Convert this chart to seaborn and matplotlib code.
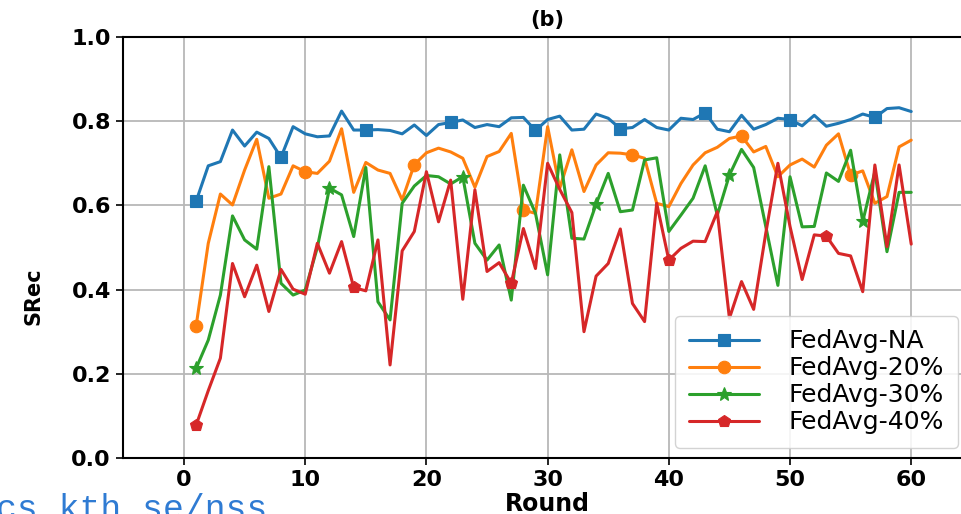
import numpy as np
import pandas as pd
import matplotlib
matplotlib.use("Agg")
import matplotlib.pyplot as plt
import seaborn as sns

rounds = list(range(1, 61))

fedavg_na = [0.610, 0.694, 0.704, 0.779, 0.741, 0.774, 0.759, 0.714, 0.787, 0.770,
             0.763, 0.765, 0.824, 0.779, 0.779, 0.780, 0.778, 0.770, 0.791, 0.766,
             0.792, 0.797, 0.803, 0.785, 0.792, 0.787, 0.808, 0.809, 0.778, 0.804,
             0.812, 0.779, 0.781, 0.817, 0.807, 0.782, 0.785, 0.804, 0.785, 0.779,
             0.807, 0.804, 0.820, 0.781, 0.775, 0.814, 0.781, 0.792, 0.807, 0.804,
             0.789, 0.814, 0.788, 0.795, 0.804, 0.817, 0.809, 0.830, 0.832, 0.823]

fedavg_20 = [0.314, 0.510, 0.627, 0.601, 0.684, 0.757, 0.617, 0.627, 0.694, 0.680,
             0.676, 0.705, 0.782, 0.631, 0.702, 0.684, 0.676, 0.613, 0.697, 0.725,
             0.736, 0.727, 0.712, 0.643, 0.716, 0.728, 0.771, 0.589, 0.581, 0.787,
             0.641, 0.732, 0.633, 0.696, 0.725, 0.724, 0.720, 0.712, 0.605, 0.597,
             0.652, 0.696, 0.725, 0.738, 0.759, 0.765, 0.727, 0.740, 0.668, 0.696,
             0.710, 0.691, 0.743, 0.770, 0.672, 0.682, 0.605, 0.621, 0.739, 0.755]

fedavg_30 = [0.213, 0.280, 0.387, 0.575, 0.518, 0.496, 0.692, 0.415, 0.387, 0.399,
             0.500, 0.641, 0.625, 0.526, 0.690, 0.371, 0.328, 0.605, 0.646, 0.671,
             0.668, 0.651, 0.668, 0.510, 0.470, 0.506, 0.375, 0.648, 0.581, 0.435,
             0.720, 0.522, 0.520, 0.603, 0.676, 0.585, 0.589, 0.708, 0.713, 0.538,
             0.577, 0.617, 0.694, 0.577, 0.672, 0.733, 0.690, 0.550, 0.410, 0.668,
             0.549, 0.550, 0.677, 0.657, 0.731, 0.562, 0.680, 0.490, 0.631, 0.631]

fedavg_40 = [0.078, 0.160, 0.237, 0.462, 0.383, 0.458, 0.348, 0.448, 0.401, 0.389,
             0.510, 0.439, 0.514, 0.405, 0.397, 0.518, 0.221, 0.492, 0.538, 0.680,
             0.561, 0.660, 0.377, 0.637, 0.443, 0.464, 0.415, 0.545, 0.450, 0.700,
             0.638, 0.583, 0.300, 0.432, 0.462, 0.544, 0.367, 0.324, 0.605, 0.470,
             0.498, 0.515, 0.514, 0.585, 0.332, 0.419, 0.353, 0.534, 0.700, 0.550,
             0.424, 0.530, 0.527, 0.486, 0.480, 0.395, 0.696, 0.502, 0.696, 0.508]

labels = ["FedAvg-NA", "FedAvg-20%", "FedAvg-30%", "FedAvg-40%"]
series = [fedavg_na, fedavg_20, fedavg_30, fedavg_40]
colors = ["#1f77b4", "#ff7f0e", "#2ca02c", "#d62728"]
markers = ["s", "o", "*", "p"]
mark_steps = [7, 9, 11, 13]

sns.set_theme(style="whitegrid")
plt.rcParams["font.family"] = ["DejaVu Sans"]
plt.rcParams["axes.edgecolor"] = "black"
plt.rcParams["text.color"] = "black"
plt.rcParams["axes.labelcolor"] = "black"
plt.rcParams["xtick.color"] = "black"
plt.rcParams["ytick.color"] = "black"
plt.rcParams["grid.color"] = "#b8b8b8"
plt.rcParams["grid.linewidth"] = 1.3

fig = plt.figure(figsize=(9.62, 5.14), dpi=100)
ax = fig.add_axes([0.1283, 0.109, 0.8819, 0.819])

for lab, vals, col, mk, step in zip(labels, series, colors, markers, mark_steps):
    df = pd.DataFrame({"Round": rounds, "SRec": vals})
    sns.lineplot(data=df, x="Round", y="SRec", ax=ax, color=col, linewidth=2.2,
                 marker=mk, markevery=step, markersize=9 if mk != "*" else 10,
                 markeredgecolor=col, markeredgewidth=0.8, label=lab)

ax.set_xlim(-5, 65)
ax.set_ylim(0, 1.0)
ax.set_xticks(range(0, 61, 10))
ax.set_yticks(np.arange(0, 1.01, 0.2))
ax.set_yticklabels([f"{v:.1f}" for v in np.arange(0, 1.01, 0.2)])
ax.tick_params(axis="both", labelsize=16, bottom=True, left=True, length=5,
               width=1.2, color="black", pad=4)
for t in ax.get_xticklabels() + ax.get_yticklabels():
    t.set_fontweight("bold")
for side in ["left", "bottom", "top", "right"]:
    ax.spines[side].set_linewidth(1.5)

ax.set_title("(b)", fontsize=15, fontweight="bold", pad=8)
ax.set_xlabel("Round", fontsize=17, fontweight="bold", labelpad=1)
ax.set_ylabel("SRec", fontsize=15, fontweight="bold")
ax.yaxis.set_label_coords(-0.094, 0.385)

ax.legend(loc="lower right", bbox_to_anchor=(958 / 962, 66 / 514),
          bbox_transform=fig.transFigure, borderaxespad=0, fontsize=18,
          labelspacing=0.12, handlelength=2.8, handletextpad=1.2, borderpad=0.55,
          frameon=True, fancybox=True, framealpha=0.85, edgecolor="#cccccc")

# slide footer link, cut by the bottom edge as in the source screenshot
fig.text(-0.004, -0.010, "cs kth se/nss", color="#2f7bd3", fontsize=25,
         family=["Liberation Mono", "DejaVu Sans Mono"], va="baseline", ha="left")

fig.savefig("out.png", dpi=100)
